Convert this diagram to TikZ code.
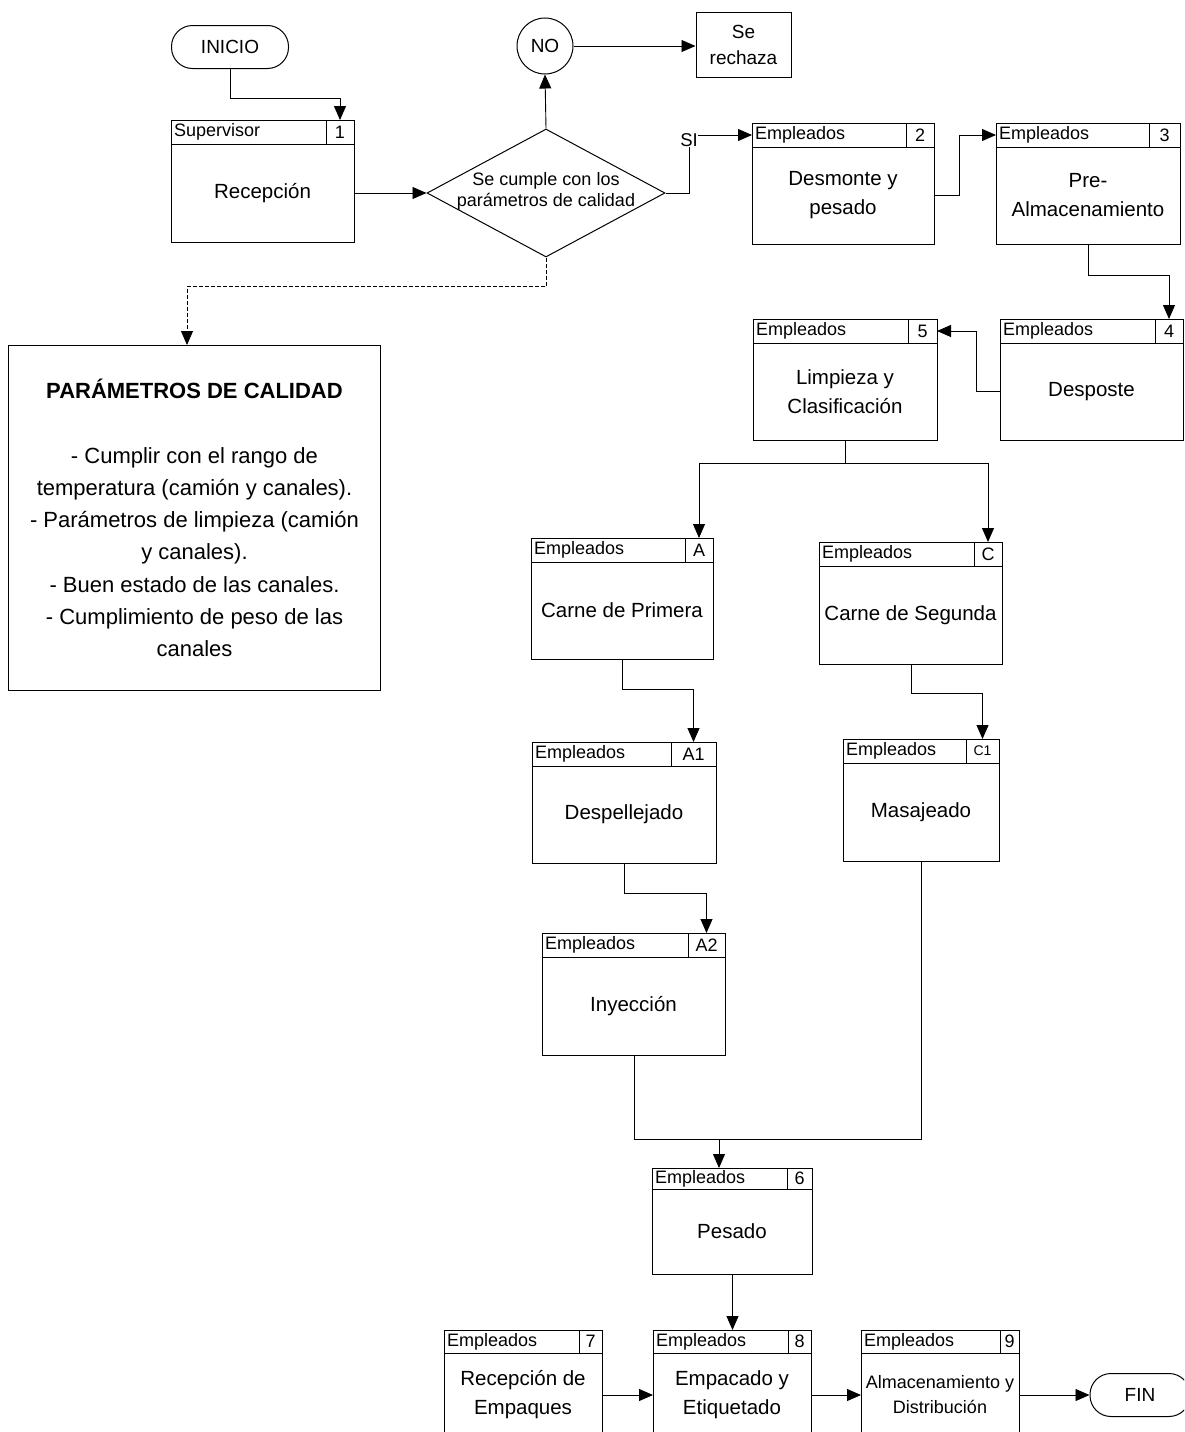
\documentclass[tikz,border=0pt]{standalone}
\usepackage{fontspec}
\setmainfont{Liberation Sans}
\usetikzlibrary{arrows.meta,calc,shapes.geometric}

% header height of the process boxes (changed for the last rows)
\def\hdrh{24}
% extra options for the body text of the next boxes
\def\lblopts{}

% process box: name, left, top, width, height, divider x, role, number, label
\newcommand\pbox[9]{%
  \node[frame, minimum width=#4, minimum height=#5, anchor=north west] (#1) at (#2,#3) {};
  \draw[frameline] (#2,#3+\hdrh) -- ++(#4,0);
  \draw[frameline] (#6,#3) -- (#6,#3+\hdrh);
  \node[role, anchor=west] (#1-r) at (#2,#3+\hdrh/2) {#7};
  \node[num] (#1-n) at ({(#6+#2+#4)/2},#3+\hdrh/2) {#8};
  \node[lbl, \lblopts] (#1-t) at ({#2+#4/2},{#3+\hdrh+(#5-\hdrh)/2}) {#9};
  \coordinate (#1-hw) at (#2,#3+\hdrh/2);
  \coordinate (#1-he) at (#2+#4,#3+\hdrh/2);
}

\tikzset{
  frame/.style={draw, line width=1pt, inner sep=0pt},
  frameline/.style={line width=1pt},
  role/.style={font=\fontsize{18}{18}\selectfont, inner sep=3pt},
  num/.style={font=\fontsize{18}{18}\selectfont, inner sep=0pt},
  smallnum/.style={font=\fontsize{14}{14}\selectfont},
  lbl/.style={font=\fontsize{20.5}{29}\selectfont, align=center, inner sep=0pt},
  smalllbl/.style={font=\fontsize{18}{25}\selectfont},
  link/.style={line width=0.9pt},
  arr/.style={line width=0.9pt, -{Triangle[length=14pt,width=12pt]}},
  terminal/.style={draw, line width=1pt, rounded corners=21pt, minimum height=43, inner sep=0pt,
    font=\fontsize{19}{20}\selectfont},
}

\begin{document}
\begin{tikzpicture}[x=1pt,y=-1pt]
\useasboundingbox (0,0) rectangle (1184,1432);
\fill[white] (0,0) rectangle (1184,1432);
\clip (0,0) rectangle (1184,1432);

% start, decision and rejection
\node[terminal, minimum width=117] (inicio) at (230,47) {INICIO};
\node[draw, circle, line width=1pt, minimum size=56, inner sep=0pt,
      font=\fontsize{19}{20}\selectfont] (no) at (545,46) {NO};
\node[draw, line width=1pt, minimum width=95, minimum height=65, inner sep=0pt,
      align=center, font=\fontsize{19}{26}\selectfont] (rech) at (743.5,44.5) {Se\\rechaza};
\node[diamond, draw, line width=1pt, minimum width=238, minimum height=128,
      aspect=1.86, inner sep=0pt] (dia) at (546,193) {};
\node[align=center, inner sep=0pt, font=\fontsize{18}{21}\selectfont] (diat) at (546,191) {Se cumple con los\\parámetros de calidad};
\node[inner sep=0pt, font=\fontsize{18.5}{19}\selectfont] (si) at (689,140) {SI};

% quality parameters
\node[frame, minimum width=372, minimum height=345, anchor=north west] (param) at (8,345) {};
\node[align=center, inner sep=0pt, font=\fontsize{22}{32.3}\selectfont] (paramt) at (param.center)
  {\textbf{PARÁMETROS DE CALIDAD}\\[32.3pt]
   - Cumplir con el rango de\\
   temperatura (camión y canales).\\
   - Parámetros de limpieza (camión\\
   y canales).\\
   - Buen estado de las canales.\\
   - Cumplimiento de peso de las\\
   canales};

% process boxes
\pbox{b1}{171}{120}{183}{122}{326}{Supervisor}{1}{Recepción}
\pbox{b2}{752}{123}{182}{121}{906}{Empleados}{2}{Desmonte y\\pesado}
\pbox{b3}{996}{123}{184}{121}{1149}{Empleados}{3}{Pre-\\Almacenamiento}
\pbox{b4}{1000}{319}{183}{121}{1155}{Empleados}{4}{Desposte}
\pbox{b5}{753}{319}{184}{121}{908}{Empleados}{5}{Limpieza y\\Clasificación}
\pbox{bA}{531}{538}{182}{121}{685}{Empleados}{A}{Carne de Primera}
\pbox{bC}{819}{542}{183}{122}{974}{Empleados}{C}{Carne de Segunda}
\pbox{bA1}{532}{742}{184}{121}{671}{Empleados}{A1}{Despellejado}
\tikzset{num/.append style={smallnum}}
\pbox{bC1}{843}{739}{156}{122}{966}{Empleados}{C1}{Masajeado}
\tikzset{num/.style={font=\fontsize{18}{18}\selectfont, inner sep=0pt}}
\pbox{bA2}{542}{933}{183}{122}{688}{Empleados}{A2}{Inyección}
\def\hdrh{21}
\pbox{b6}{652}{1168}{160}{106}{787}{Empleados}{6}{Pesado}
\def\hdrh{23}
\pbox{b7}{444}{1330}{158}{107}{579}{Empleados}{7}{Recepción de\\Empaques}
\pbox{b8}{653}{1330}{158}{107}{788}{Empleados}{8}{Empacado y\\Etiquetado}
\def\lblopts{smalllbl}
\pbox{b9}{861}{1330}{158}{107}{1000}{Empleados}{9}{Almacenamiento y\\Distribución}
\node[terminal, minimum width=100] (fin) at (1140,1395) {FIN};

% connectors
\coordinate (pturn) at (187,286);
\coordinate (split) at ($(b5.south)+(0,22)$);
\coordinate (merge) at (719,1139);

\draw[arr] (inicio.south) -- ++(0,29) -| (b1-n |- b1.north);
\draw[arr] (b1-t -| b1.east) -- (dia.west);
\draw[arr] (dia.north) -- (no.south);
\draw[arr] (no.east) -- (no.east -| rech.west);
\draw[arr, dash pattern=on 4pt off 2pt] (dia.south) |- (pturn) -- (pturn |- param.north);
\draw[link] (dia.east) -| (si.south);
\draw[arr] (si.east |- b2-hw) -- (b2-hw);
\draw[arr] (b2-t -| b2.east) -- ++(24,0) |- (b3-hw);
\draw[arr] (b3.south) -- ++(0,30) -| (b4-n |- b4.north);
\draw[arr] (b4-t -| b4.west) -- ++(-24,0) |- (b5-he);
\draw[link] (b5.south) -- (split);
\draw[arr] (split) -| (bA-n |- bA.north);
\draw[arr] (split) -| (bC-n |- bC.north);
\draw[arr] (bA.south) -- ++(0,29) -| (bA1-n |- bA1.north);
\draw[arr] (bC.south) -- ++(0,28) -| (bC1-n |- bC1.north);
\draw[arr] (bA1.south) -- ++(0,29) -| (bA2-n |- bA2.north);
\draw[link] (bA2.south) |- (merge);
\draw[link] (bC1.south) |- (merge);
\draw[arr] (merge) -- (merge |- b6.north);
\draw[arr] (b6.south) -- (b6.south |- b8.north);
\draw[arr] (b7-t -| b7.east) -- (b7-t -| b8.west);
\draw[arr] (b8-t -| b8.east) -- (b8-t -| b9.west);
\draw[arr] (b9-t -| b9.east) -- (b9-t -| fin.west);
\end{tikzpicture}
\end{document}
